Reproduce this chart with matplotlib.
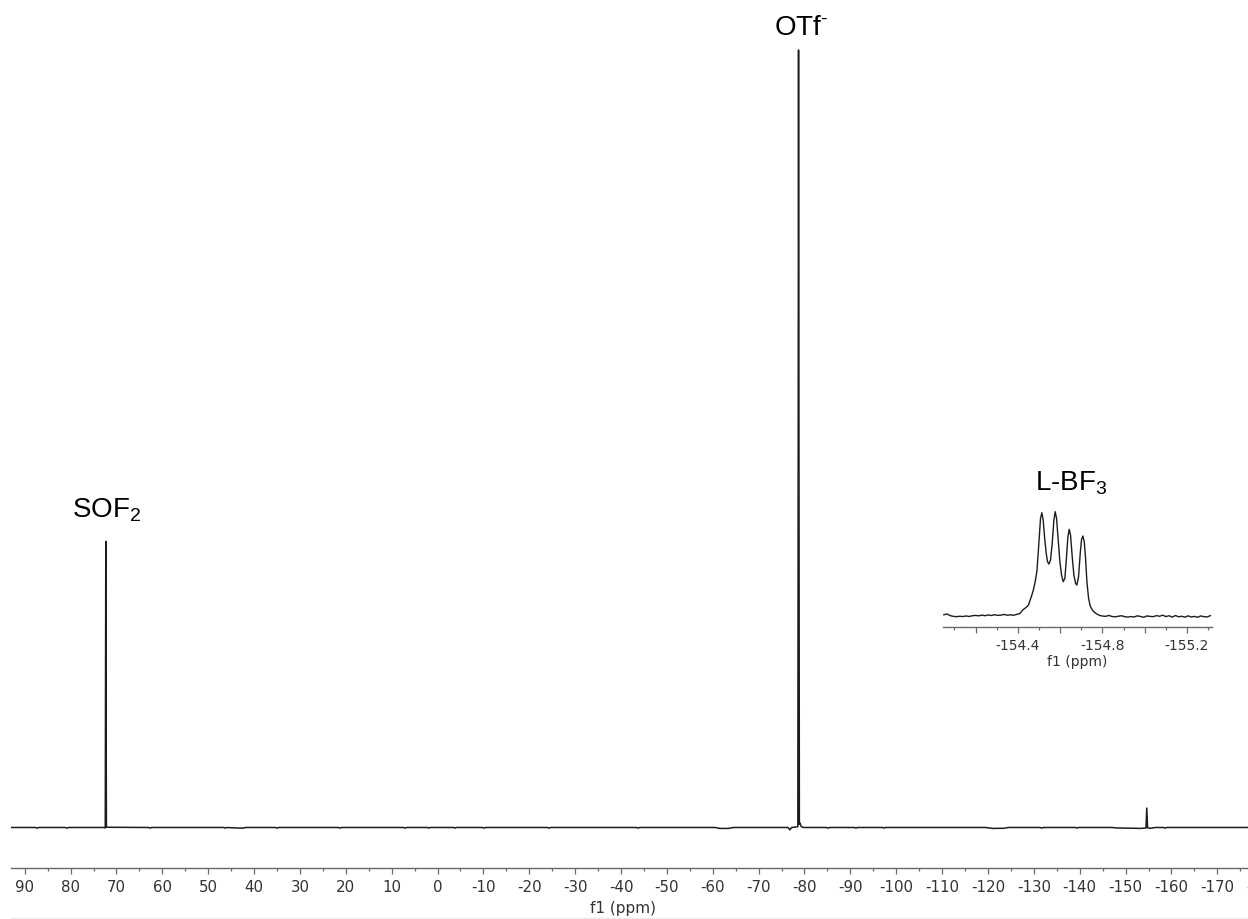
import matplotlib
matplotlib.use("Agg")
import matplotlib.pyplot as plt
from matplotlib.ticker import MultipleLocator, FuncFormatter
from matplotlib.lines import Line2D

plt.rcParams["font.family"] = ["DejaVu Sans"]
plt.rcParams["mathtext.fontset"] = "custom"
plt.rcParams["mathtext.rm"] = "Liberation Sans"
plt.rcParams["mathtext.it"] = "Liberation Sans:italic"
plt.rcParams["mathtext.bf"] = "Liberation Sans:bold"

# ---- full 19F spectrum (chemical shift in ppm, intensity in % of tallest line) ----
main_ppm = [
    93.0, 87.6, 87.3, 87.0, 81.1, 80.8, 80.5,
    72.7, 72.45, 72.33, 72.2,
    63.0, 62.7, 62.4, 46.6, 46.3, 46.0, 44.0, 42.4, 41.9,
    35.3, 35.0, 34.7, 21.6, 21.3, 21.0, 7.4, 7.1, 6.8,
    2.2, 1.9, 1.6, -3.5, -3.8, -4.1, -9.8, -10.1, -10.4,
    -24.0, -24.3, -24.6, -43.4, -43.7, -44.0,
    -60.5, -61.5, -63.5, -64.5,
    -76.4, -76.8, -77.2,
    -78.55, -78.7, -78.88, -79.05, -79.3, -79.8,
    -84.8, -85.1, -85.4, -90.9, -91.2, -91.5, -97.0, -97.3, -97.6,
    -119.5, -121.0, -123.5, -124.5,
    -131.4, -131.7, -132.0, -139.1, -139.4, -139.7,
    -147.0, -148.1, -152.0, -153.3,
    -154.45, -154.62, -154.8, -155.4, -156.5,
    -158.3, -158.6, -158.9, -185.0,
]
main_int = [
    0.0, 0.0, -0.08, 0.0, 0.0, -0.08, 0.0,
    0.0, -0.06, 36.8, 0.03,
    0.0, -0.08, 0.0, 0.0, -0.08, 0.0, -0.06, -0.08, 0.0,
    0.0, -0.08, 0.0, 0.0, -0.08, 0.0, 0.0, -0.08, 0.0,
    0.0, -0.07, 0.0, 0.0, -0.08, 0.0, 0.0, -0.08, 0.0,
    0.0, -0.08, 0.0, 0.0, -0.08, 0.0,
    0.0, -0.12, -0.12, 0.0,
    0.0, -0.3, 0.0,
    0.1, 100.0, 0.4, 0.55, 0.1, 0.0,
    0.0, -0.08, 0.0, 0.0, -0.08, 0.0, 0.0, -0.07, 0.0,
    0.0, -0.12, -0.1, 0.0,
    0.0, -0.08, 0.0, 0.0, -0.07, 0.0,
    0.0, -0.06, -0.1, -0.12,
    -0.06, 2.5, -0.04, -0.1, 0.0,
    0.0, -0.08, 0.0, 0.0,
]

# ---- expansion of the L-BF3 multiplet ----
bf3_left_ppm = [
    -154.050, -154.065, -154.080, -154.095, -154.110, -154.125, -154.140,
    -154.155, -154.170, -154.185, -154.200, -154.215, -154.230, -154.245,
    -154.260, -154.275, -154.290, -154.305, -154.320, -154.335, -154.350,
    -154.365, -154.380, -154.395, -154.410,
]
bf3_left_int = [
    1.2, 2.0, 0.4, -0.3, -0.6, -0.2, -0.5, 0.1, -0.4, 0.3, 0.6, 0.2, 0.9,
    0.3, 1.1, 0.5, 1.3, 0.6, 0.9, 1.5, 0.8, 1.2, 0.7, 1.6, 2.4,
]
bf3_peak_ppm = [
    -154.4188, -154.4267, -154.4393, -154.4503, -154.4582, -154.4661,
    -154.4740, -154.4819, -154.4898, -154.4961, -154.5024, -154.5071,
    -154.5135, -154.5198, -154.5261, -154.5340, -154.5403, -154.5466,
    -154.5545, -154.5624, -154.5703, -154.5766, -154.5829, -154.5908,
    -154.5987, -154.6066, -154.6144, -154.6223, -154.6302, -154.6366,
    -154.6428, -154.6491, -154.6570, -154.6649, -154.6728, -154.6791,
    -154.6870, -154.6949, -154.7012, -154.7076, -154.7139, -154.7202,
    -154.7265, -154.7344, -154.7423, -154.7517, -154.7628, -154.7738,
    -154.7864,
]
bf3_peak_int = [
    4.8, 6.4, 8.3, 10.5, 15.3, 20.1,
    25.6, 32.9, 42.5, 60.1, 79.2, 93.6,
    99.0, 92.0, 76.0, 60.1, 52.1, 49.8,
    53.7, 69.6, 92.0, 100.0, 93.6, 72.8,
    52.1, 39.3, 32.9, 36.1, 56.9, 76.0,
    83.1, 77.6, 56.9, 39.3, 31.3, 29.7,
    37.7, 60.1, 73.5, 76.7, 71.2, 55.3,
    32.9, 16.9, 9.6, 5.8, 3.5, 1.9,
    0.6,
]
bf3_right_ppm = [
    -154.800, -154.815, -154.830, -154.845, -154.860, -154.875, -154.890,
    -154.905, -154.920, -154.935, -154.950, -154.965, -154.980, -154.995,
    -155.010, -155.025, -155.040, -155.055, -155.070, -155.085, -155.100,
    -155.115, -155.130, -155.145, -155.160, -155.175, -155.190, -155.205,
    -155.220, -155.235, -155.250, -155.265, -155.280, -155.295, -155.310,
]
bf3_right_int = [
    0.0, -0.3, 0.6, -0.4, -0.8, -0.2, 0.3, -0.6, -1.0, -0.5, -0.9, 0.2,
    -0.4, -1.2, 0.1, -0.3, -0.6, 0.4, -0.2, 0.8, -0.5, 0.3, -1.0, 0.5,
    -0.7, -0.2, -1.1, 0.2, -0.9, -0.3, -1.2, 0.1, -0.6, -0.9, 0.4,
]

LINE = "#1c1c1c"
AXIS = "#6a6a6a"
TXT = "#333333"

W, H = 1248, 919
fig = plt.figure(figsize=(W / 100, H / 100), dpi=100)


def px_box(x0, y0, x1, y1):
    return [x0 / W, 1 - y1 / H, (x1 - x0) / W, (y1 - y0) / H]


def style_axis(a, size):
    for s in ("top", "left", "right"):
        a.spines[s].set_visible(False)
    a.spines["bottom"].set_color(AXIS)
    a.spines["bottom"].set_linewidth(1.0)
    a.set_yticks([])
    a.patch.set_alpha(0)
    a.tick_params(axis="x", which="major", length=4.4, width=0.9, color=AXIS,
                  labelsize=size, labelcolor=TXT, pad=4.5)
    a.tick_params(axis="x", which="minor", length=2.3, width=0.9, color=AXIS)


# main spectrum
ax = fig.add_axes(px_box(11, 30, 1290, 868))
ax.plot(main_ppm, main_int, color=LINE, lw=1.1)
ax.set_xlim(93.0, -185.85)
ax.set_ylim(-5.21, 102.57)
style_axis(ax, 10.8)
ax.xaxis.set_major_locator(MultipleLocator(10))
ax.xaxis.set_minor_locator(MultipleLocator(5))
ax.xaxis.set_major_formatter(FuncFormatter(lambda v, p: f"{v:.0f}"))
ax.set_xlabel("f1 (ppm)", fontsize=11, color=TXT)
ax.xaxis.set_label_coords((622.5 - 11) / (1290 - 11), -0.0392)

ax.text(72.2, 39.9, r"SOF$_2$", fontsize=20, ha="center", va="baseline",
        family="Liberation Sans")
ax.text(-79.33, 101.9, r"OTf$^{\text{-}}$", fontsize=20, ha="center", va="baseline",
        family="Liberation Sans")

# inset expansion
axi = fig.add_axes(px_box(943, 505, 1212, 627))
axi.plot(bf3_left_ppm + bf3_peak_ppm + bf3_right_ppm,
         bf3_left_int + bf3_peak_int + bf3_right_int,
         color=LINE, lw=1.0)
axi.set_xlim(-154.046, -155.318)
axi.set_ylim(-10.5, 106.4)
style_axis(axi, 10.0)
axi.xaxis.set_major_locator(MultipleLocator(0.2))
axi.xaxis.set_minor_locator(MultipleLocator(0.1))


def inset_fmt(v, p):
    k = round(v / 0.2)
    return f"{v:.1f}" if k % 2 == 0 else ""


axi.xaxis.set_major_formatter(FuncFormatter(inset_fmt))
axi.set_xlabel("f1 (ppm)", fontsize=10, color=TXT, labelpad=1.5)

fig.text(1071.5 / W, 1 - 490.7 / H, r"L-BF$_3$", fontsize=20, ha="center",
         va="baseline", family="Liberation Sans")

fig.add_artist(Line2D([11 / W, 1.0], [1 - 918 / H] * 2, color="#ececec", lw=1))

fig.savefig("out.png", dpi=100)
